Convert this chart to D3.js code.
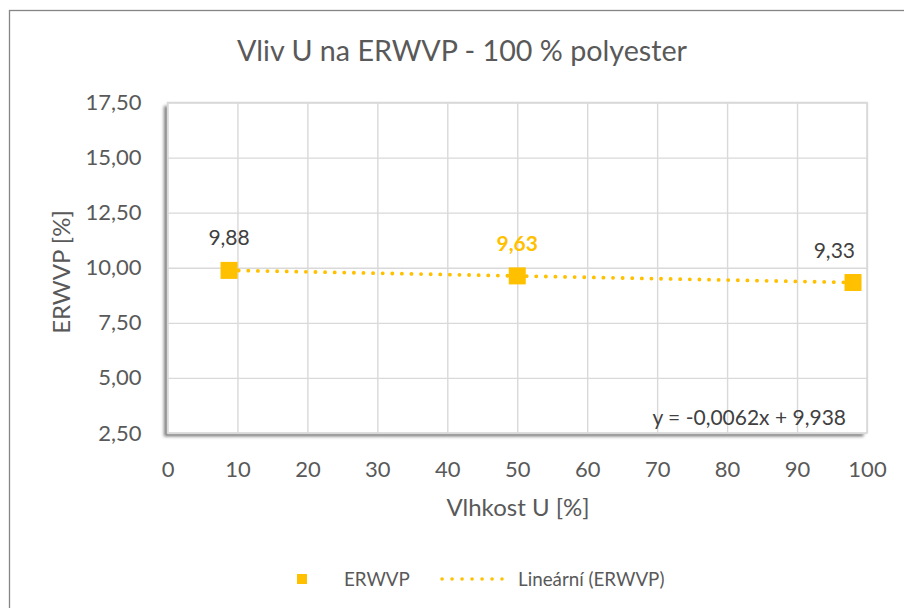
<!DOCTYPE html>
<html>
<head>
<meta charset="utf-8">
<script src="https://cdn.jsdelivr.net/npm/d3@7"></script>
<style>
  html, body { margin: 0; padding: 0; background: #fff; }
  svg { display: block; font-family: Lato, "Open Sans", sans-serif; }
</style>
</head>
<body>
<svg id="chart" width="904" height="608"></svg>
<script>
// Humidity (x) and ERWVP (y) measurements
const humidity = [8.8, 50, 98];
const erwvp = [9.88, 9.63, 9.33];
const labelHighlight = [false, true, false];

// Linear trend parameters (slope, intercept)
const trendSlope = -0.0062;
const trendIntercept = 9.938;

// Axis tick values
const xTicks = [0, 10, 20, 30, 40, 50, 60, 70, 80, 90, 100];
const yTicks = [2.5, 5, 7.5, 10, 12.5, 15, 17.5];

const titleText = "Vliv U na ERWVP - 100 % polyester";
const xTitle = "Vlhkost U [%]";
const yTitle = "ERWVP [%]";
const seriesName = "ERWVP";
const trendName = "Lineární (ERWVP)";

const gold = "#FFC000";
const textGray = "#595959";
const gridGray = "#d9d9d9";

const svg = d3.select("#chart");
const W = 904, H = 608;
const plot = { left: 167.5, right: 867, top: 102.5, bottom: 433 };

const cz = d3.formatLocale({ decimal: ",", thousands: " ", grouping: [3], currency: ["", ""], minus: "-" });
const fmt2 = cz.format(".2f");

const x = d3.scaleLinear().domain([0, 100]).range([plot.left, plot.right]);
const y = d3.scaleLinear().domain([2.5, 17.5]).range([plot.bottom, plot.top]);

// Outer chart frame
svg.append("rect").attr("x", 0).attr("y", 0).attr("width", W).attr("height", H).attr("fill", "#fff");
svg.append("rect")
  .attr("x", 9.5).attr("y", 10.5).attr("width", W + 20).attr("height", H + 20)
  .attr("fill", "none").attr("stroke", "#858585").attr("stroke-width", 1.3);

// Drop shadow for the plot area
const defs = svg.append("defs");
const f = defs.append("filter").attr("id", "shadow")
  .attr("x", "-5%").attr("y", "-5%").attr("width", "110%").attr("height", "115%");
f.append("feDropShadow").attr("dx", -3.5).attr("dy", 3.5).attr("stdDeviation", 1.8)
  .attr("flood-color", "#000").attr("flood-opacity", 0.5);

svg.append("rect")
  .attr("x", plot.left).attr("y", plot.top)
  .attr("width", plot.right - plot.left).attr("height", plot.bottom - plot.top)
  .attr("fill", "#fff").attr("filter", "url(#shadow)");

// Gridlines
const gx = svg.append("g").attr("transform", `translate(0,${plot.bottom})`)
  .call(d3.axisBottom(x).tickValues(xTicks).tickSize(-(plot.bottom - plot.top)).tickFormat(""));
const gy = svg.append("g").attr("transform", `translate(${plot.left},0)`)
  .call(d3.axisLeft(y).tickValues(yTicks).tickSize(-(plot.right - plot.left)).tickFormat(""));
[gx, gy].forEach(g => {
  g.select(".domain").remove();
  g.selectAll("line").attr("stroke", gridGray).attr("stroke-width", 1.4);
});

// Plot area border
svg.append("rect")
  .attr("x", plot.left).attr("y", plot.top)
  .attr("width", plot.right - plot.left).attr("height", plot.bottom - plot.top)
  .attr("fill", "none").attr("stroke", gridGray).attr("stroke-width", 1.6);

// Tick labels
const xl = svg.append("g").attr("transform", `translate(0,${plot.bottom})`)
  .call(d3.axisBottom(x).tickValues(xTicks).tickSize(0).tickPadding(28).tickFormat(d3.format("d")));
const yl = svg.append("g").attr("transform", `translate(${plot.left},0)`)
  .call(d3.axisLeft(y).tickValues(yTicks).tickSize(0).tickPadding(26).tickFormat(fmt2));
[xl, yl].forEach(g => {
  g.select(".domain").remove();
  g.selectAll("text").attr("fill", textGray).style("font-size", "22px").style("font-family", "Lato");
});

// Title and axis titles
svg.append("text").attr("x", 462).attr("y", 61).attr("text-anchor", "middle")
  .attr("fill", textGray).style("font-size", "28.7px").text(titleText);
svg.append("text").attr("x", 518).attr("y", 516).attr("text-anchor", "middle")
  .attr("fill", textGray).style("font-size", "24px").text(xTitle);
svg.append("text").attr("transform", `translate(70,${272}) rotate(-90)`)
  .attr("text-anchor", "middle").attr("fill", textGray).style("font-size", "24px").text(yTitle);

// Linear trendline across the data range
const xExt = d3.extent(humidity);
svg.append("line")
  .attr("x1", x(xExt[0])).attr("y1", y(trendSlope * xExt[0] + trendIntercept))
  .attr("x2", x(xExt[1])).attr("y2", y(trendSlope * xExt[1] + trendIntercept))
  .attr("stroke", gold).attr("stroke-width", 3.8)
  .attr("stroke-linecap", "round").attr("stroke-dasharray", "0.1 9.5");

// Markers
const pts = humidity.map((h, i) => ({ h, v: erwvp[i], hi: labelHighlight[i] }));
const ms = 17;
svg.append("g").selectAll("rect").data(pts).join("rect")
  .attr("x", d => x(d.h) - ms / 2).attr("y", d => y(d.v) - ms / 2)
  .attr("width", ms).attr("height", ms).attr("fill", gold);

// Value labels, kept inside the plot area
svg.append("g").selectAll("text").data(pts).join("text")
  .attr("text-anchor", "middle")
  .attr("y", d => y(d.v) - 25)
  .attr("fill", d => d.hi ? gold : "#404040")
  .style("font-size", "21px")
  .style("font-weight", d => d.hi ? "bold" : "normal")
  .text(d => fmt2(d.v))
  .each(function (d) {
    const w = this.getComputedTextLength();
    const cx = Math.min(x(d.h), plot.right - 12 - w / 2);
    d3.select(this).attr("x", cx);
  });

// Trendline equation
svg.append("text").attr("x", 846).attr("y", 425).attr("text-anchor", "end")
  .attr("fill", "#404040").style("font-size", "21px")
  .text(`y = ${cz.format(".4f")(trendSlope)}x + ${cz.format(".3f")(trendIntercept)}`);

// Legend
const ly = 579;
svg.append("rect").attr("x", 297).attr("y", ly - 5).attr("width", 10).attr("height", 10).attr("fill", gold);
svg.append("text").attr("x", 344).attr("y", ly).attr("dy", "0.35em")
  .attr("fill", textGray).style("font-size", "18.8px").text(seriesName);
svg.append("line").attr("x1", 442).attr("x2", 502).attr("y1", ly).attr("y2", ly)
  .attr("stroke", gold).attr("stroke-width", 3.5)
  .attr("stroke-linecap", "round").attr("stroke-dasharray", "0.1 9.9");
svg.append("text").attr("x", 518).attr("y", ly).attr("dy", "0.35em")
  .attr("fill", textGray).style("font-size", "18.8px").text(trendName);
</script>
</body>
</html>
